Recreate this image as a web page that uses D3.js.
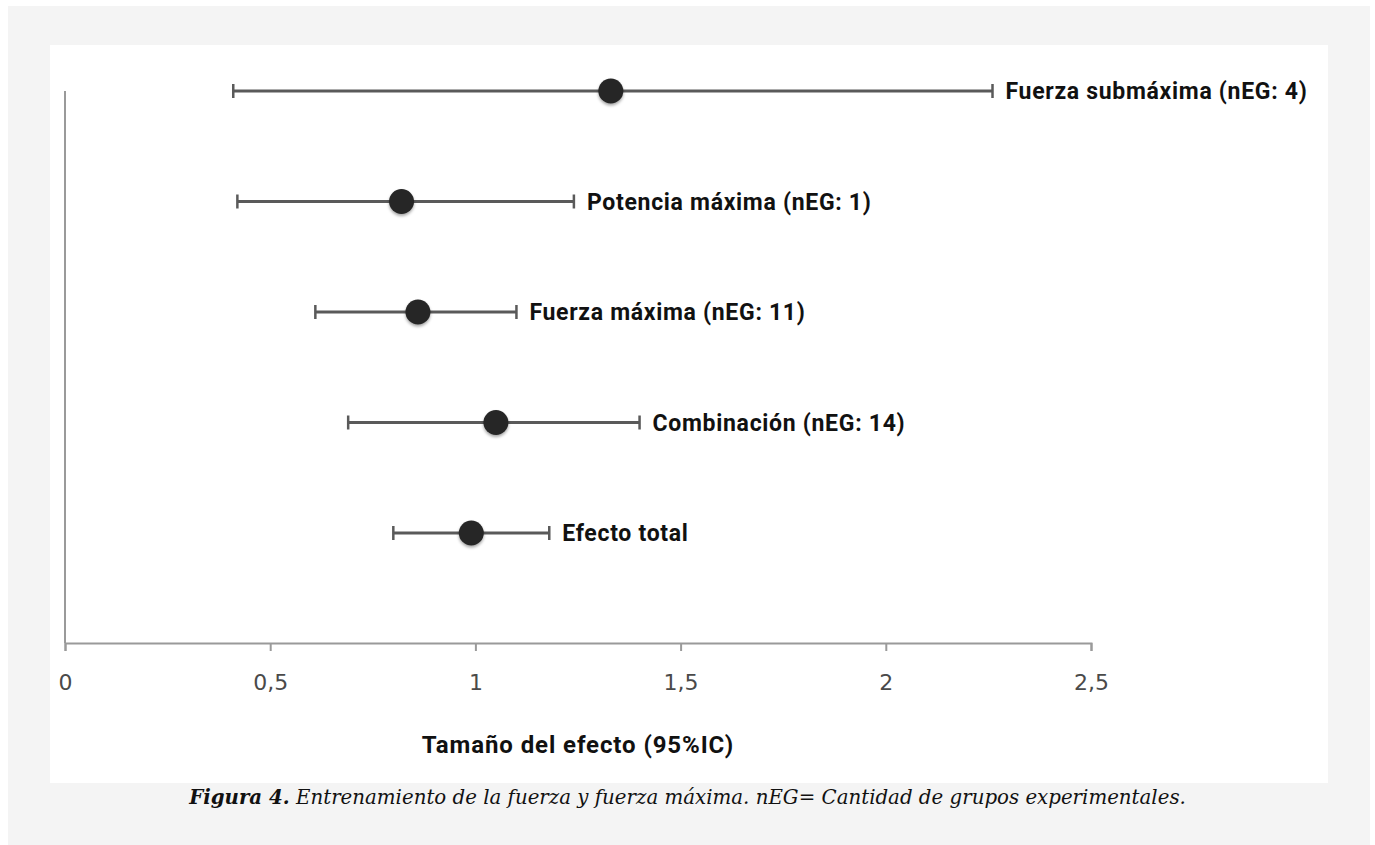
<!DOCTYPE html>
<html>
<head>
<meta charset="utf-8">
<script src="https://cdn.jsdelivr.net/npm/d3@7"></script>
<style>
  body { margin: 0; background: #fff; }
</style>
</head>
<body>
<div id="chart"></div>
<script>
// Data
var categories = [
    "Fuerza submáxima (nEG: 4)",
    "Potencia máxima (nEG: 1)",
    "Fuerza máxima (nEG: 11)",
    "Combinación (nEG: 14)",
    "Efecto total"
];
var effects = [1.33, 0.82, 0.86, 1.05, 0.99];
var ciLow   = [0.41, 0.42, 0.61, 0.69, 0.80];
var ciHigh  = [2.26, 1.24, 1.10, 1.40, 1.18];
var xTicks  = [0, 0.5, 1, 1.5, 2, 2.5];
var xTitle  = "Tamaño del efecto (95%IC)";

var data = categories.map(function(c, i) {
    return { name: c, value: effects[i], low: ciLow[i], high: ciHigh[i] };
});

function drawForest() {
    var width = 1375, height = 845;

    var svg = d3.select('#chart').append("svg")
        .attr("width", width)
        .attr("height", height);

    // Drop shadow for the dots
    var defs = svg.append("defs");
    var filter = defs.append("filter").attr("id", "shadow")
        .attr("x", "-50%").attr("y", "-50%").attr("width", "200%").attr("height", "200%");
    filter.append("feDropShadow")
        .attr("dx", 0).attr("dy", 2).attr("stdDeviation", 1.5)
        .attr("flood-color", "#000").attr("flood-opacity", 0.35);

    // Grey page + white panel
    svg.append("rect").attr("x", 8).attr("y", 6).attr("width", 1362).attr("height", 839).attr("fill", "#f4f4f4");
    svg.append("rect").attr("x", 50).attr("y", 45).attr("width", 1278).attr("height", 738).attr("fill", "#fff");

    // Scales
    var x = d3.scaleLinear().domain([0, 2.5]).range([65, 1091]);
    var y = d3.scalePoint().domain(categories).range([91, 533]);
    var axisY = 643;

    // Y axis line
    svg.append("line")
        .attr("x1", x(0)).attr("x2", x(0))
        .attr("y1", 91).attr("y2", axisY)
        .attr("stroke", "#9a9a9a").attr("stroke-width", 2);

    // X axis
    var xAxis = d3.axisBottom(x)
        .tickValues(xTicks)
        .tickSize(8)
        .tickPadding(23)
        .tickFormat(function(d) { return String(d).replace(".", ","); });

    var gx = svg.append("g")
        .attr("transform", "translate(0," + axisY + ")")
        .call(xAxis);
    gx.select(".domain").attr("stroke", "#9a9a9a").attr("stroke-width", 2);
    gx.selectAll(".tick line").attr("stroke", "#9a9a9a").attr("stroke-width", 2);
    gx.selectAll(".tick text")
        .attr("fill", "#4a4a4a")
        .style("font-family", "'DejaVu Sans', sans-serif")
        .style("font-size", "22px");

    // Axis title
    svg.append("text")
        .attr("x", (x(0) + x(2.5)) / 2)
        .attr("y", 753)
        .attr("text-anchor", "middle")
        .attr("fill", "#111")
        .style("font-family", "Roboto, sans-serif")
        .style("font-weight", "bold")
        .style("font-size", "24px")
        .style("letter-spacing", "0.9px")
        .text(xTitle);

    // Rows
    var rows = svg.selectAll(".row")
        .data(data)
        .enter().append("g")
        .attr("class", "row")
        .attr("transform", function(d) { return "translate(0," + y(d.name) + ")"; });

    rows.append("line")
        .attr("x1", function(d) { return x(d.low); })
        .attr("x2", function(d) { return x(d.high); })
        .attr("stroke", "#5a5a5a").attr("stroke-width", 3);

    rows.append("line")
        .attr("x1", function(d) { return x(d.low); })
        .attr("x2", function(d) { return x(d.low); })
        .attr("y1", -7).attr("y2", 7)
        .attr("stroke", "#5a5a5a").attr("stroke-width", 2.5);

    rows.append("line")
        .attr("x1", function(d) { return x(d.high); })
        .attr("x2", function(d) { return x(d.high); })
        .attr("y1", -7).attr("y2", 7)
        .attr("stroke", "#5a5a5a").attr("stroke-width", 2.5);

    rows.append("circle")
        .attr("cx", function(d) { return x(d.value); })
        .attr("r", 12.5)
        .attr("fill", "#262626")
        .attr("filter", "url(#shadow)");

    rows.append("text")
        .attr("x", function(d) { return x(d.high) + 13; })
        .attr("dy", "0.36em")
        .attr("fill", "#111")
        .style("font-family", "Roboto, sans-serif")
        .style("font-weight", "bold")
        .style("font-size", "23px")
        .style("letter-spacing", "0.7px")
        .text(function(d) { return d.name; });

    // Caption
    var cap = svg.append("text")
        .attr("x", width / 2)
        .attr("y", 804)
        .attr("text-anchor", "middle")
        .attr("fill", "#111")
        .style("font-family", "'DejaVu Serif', serif")
        .style("font-style", "italic")
        .style("font-size", "19.8px");
    cap.append("tspan").style("font-weight", "bold").text("Figura 4.");
    cap.append("tspan").text(" Entrenamiento de la fuerza y fuerza máxima. nEG= Cantidad de grupos experimentales.");
}

drawForest();
</script>
</body>
</html>
